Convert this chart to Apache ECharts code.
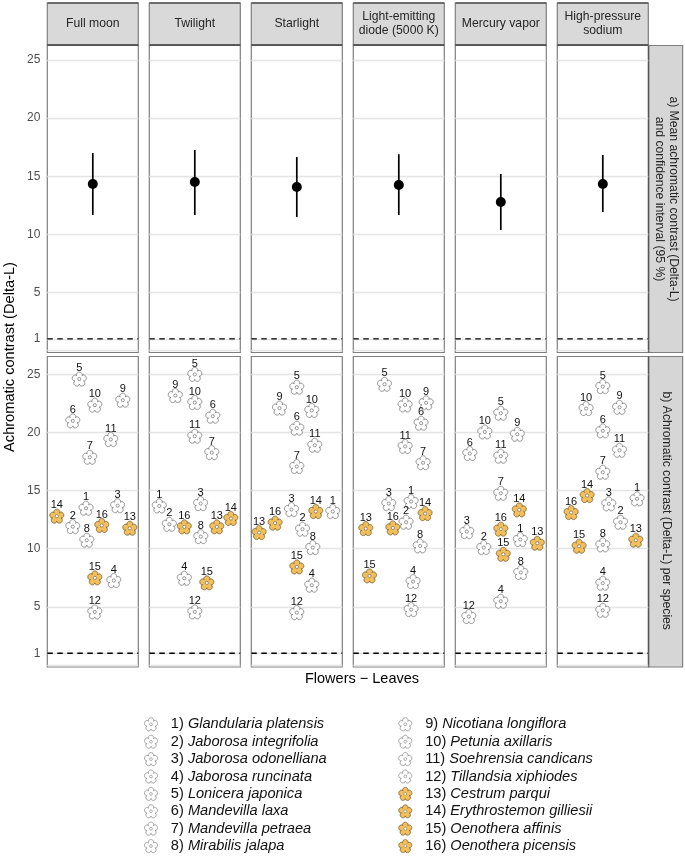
<!DOCTYPE html>
<html><head><meta charset="utf-8">
<style>html,body{margin:0;padding:0;background:#fff}#c{width:685px;height:857px}</style>
<script src="https://cdn.jsdelivr.net/npm/echarts@6/dist/echarts.min.js"></script>
</head><body><div id="c"></div>
<script>
// ---- data ----
const lights = ['Full moon','Twilight','Starlight','Light-emitting\ndiode (5000 K)','Mercury vapor','High-pressure\nsodium'];
const species = ['Glandularia platensis','Jaborosa integrifolia','Jaborosa odonelliana','Jaborosa runcinata','Lonicera japonica','Mandevilla laxa','Mandevilla petraea','Mirabilis jalapa','Nicotiana longiflora','Petunia axillaris','Soehrensia candicans','Tillandsia xiphiodes','Cestrum parqui','Erythrostemon gilliesii','Oenothera affinis','Oenothera picensis'];
const yellowFrom = 13;
const meanValues = [14.33,14.5,14.07,14.24,12.78,14.33];
const ciLow =  [11.66,11.66,11.49,11.66,10.37,11.92];
const ciHigh = [17.0,17.25,16.65,16.9,15.2,16.83];
const yFull  = [13.48,11.9,13.7,7.26,24.6,21.0,17.87,10.73,22.78,22.35,19.4,4.56,11.76,12.8,7.49,12.0];
const xFull  = [-6.8,-20,24.8,21,-13.5,-20,-3,-6,30,2,18,2,37,-36,2,9];
const yTwi   = [13.68,12.1,13.88,7.46,25.0,21.4,18.27,11.04,23.18,22.58,19.68,4.56,11.88,12.6,7.06,11.88];
const xTwi   = [-35.5,-25.5,5.8,-10.5,0,18,17,6,-19.5,0,0,0,22,36,12,-10.5];
const yStar  = [13.2,11.68,13.37,6.86,23.9,20.37,17.07,10.1,22.1,21.9,18.9,4.5,11.39,13.2,8.43,12.2];
const xStar  = [36,5.7,-5.3,15,0,0,0,16,-17.3,15,18,0,-37.7,19,0,-21.7];
const yLed   = [14.06,12.28,13.88,7.17,24.15,20.8,17.4,10.24,22.55,22.37,18.8,4.76,11.73,13.02,7.66,11.79];
const xLed   = [12.3,7.3,-10,14.3,-14.3,22.3,24.3,21.3,27.3,6.3,6.3,12.3,-33,26.3,-29.3,-6];
const yMerc  = [10.79,10.1,11.47,5.48,21.66,18.19,14.77,7.95,19.85,20.05,17.96,4.16,10.47,13.34,9.52,11.68];
const xMerc  = [19.5,-17,-34,0,0,-31,0,20,16.5,-16,0,-32,36.5,18.5,2.5,0];
const ySod   = [14.29,12.28,13.86,7.03,23.95,20.14,16.58,10.33,22.17,22.06,18.47,4.7,10.73,14.57,10.21,13.11];
const xSod   = [34.3,17.7,6,0,0,0,0,0,16.7,-16.7,16.7,0,33,-15.7,-23.7,-31.7];
const panelY = [yFull,yTwi,yStar,yLed,yMerc,ySod];
const panelX = [xFull,xTwi,xStar,xLed,xMerc,xSod];
const gridTicks = [0,1,5,10,15,20,25];
const tickLabels = [1,5,10,15,20,25];
const threshold = 1;

// ---- glyph ----
function flowerPath(){
  let d='';const n=160;
  for(let i=0;i<n;i++){
    const t=i/n*2*Math.PI;
    const r=50*(0.62+0.38*Math.pow(Math.abs(Math.cos(2.5*t)),0.55));
    const x=60+r*Math.sin(t), y=60-r*Math.cos(t);
    d+=(i?'L':'M')+x.toFixed(2)+' '+y.toFixed(2);
  }
  return 'path://'+d+'Z';
}
const FLOWER=flowerPath();
const YELLOW='#F3BF5A', STROKE='#5e5e5e', FONT='"Liberation Sans", Arial, sans-serif';

// ---- layout ----
const PL=[47.3,149.3,251.3,353.3,455.3,557.3], PW=91;
const TOP={y:45.5,h:307,min:-0.17,max:26.25}, BOT={y:356.5,h:310.5,min:-0.18,max:26.54};

const grids=[],xAxes=[],yAxes=[],series=[],graphic=[];
function addAxes(i,R){
  const idx=grids.length;
  grids.push({left:PL[i],top:R.y,width:PW,height:R.h,show:true,backgroundColor:'#fff',borderColor:'#7f7f7f',borderWidth:1.2,containLabel:false});
  xAxes.push({gridIndex:idx,type:'value',min:-45.5,max:45.5,show:false});
  yAxes.push({gridIndex:idx,type:'value',min:R.min,max:R.max,
    axisLine:{show:false},
    axisTick:{show:false,customValues:gridTicks},
    axisLabel:{show:i===0,customValues:tickLabels,color:'#4d4d4d',fontSize:12,fontFamily:FONT,margin:7,showMinLabel:true,showMaxLabel:true},
    splitLine:{show:true,lineStyle:{color:'#e4e4e4',width:1.4}}});
  return idx;
}
function dashed(idx){
  series.push({type:'line',xAxisIndex:idx,yAxisIndex:idx,silent:true,symbol:'none',animation:false,z:3,
    data:[[-45.5,threshold],[45.5,threshold]],lineStyle:{color:'#000',width:1.4,type:[5.5,4.5]}});
}
lights.forEach((name,i)=>{
  const a=addAxes(i,TOP);
  dashed(a);
  series.push({type:'line',xAxisIndex:a,yAxisIndex:a,silent:true,symbol:'none',animation:false,z:4,
    data:[[0,ciLow[i]],[0,ciHigh[i]]],lineStyle:{color:'#000',width:1.7}});
  series.push({type:'scatter',xAxisIndex:a,yAxisIndex:a,silent:true,animation:false,z:5,symbol:'circle',symbolSize:10,
    data:[[0,meanValues[i]]],itemStyle:{color:'#000',opacity:1}});
  const b=addAxes(i,BOT);
  dashed(b);
  const pts=species.map((s,k)=>({value:[panelX[i][k],panelY[i][k]],num:k+1,
    itemStyle:{color:k+1>=yellowFrom?YELLOW:'#fff',opacity:1,borderColor:k+1>=yellowFrom?'#5c4a24':STROKE,borderWidth:0.7}}));
  series.push({type:'scatter',xAxisIndex:b,yAxisIndex:b,silent:true,animation:false,z:5,symbol:FLOWER,symbolSize:14,data:pts,
    label:{show:true,position:'top',distance:-2,formatter:p=>String(p.data.num),color:'#111',fontSize:11,fontFamily:FONT}});
  series.push({type:'scatter',xAxisIndex:b,yAxisIndex:b,silent:true,animation:false,z:6,symbol:'circle',symbolSize:3.2,
    data:pts.map(p=>p.value),itemStyle:{color:'#fff',opacity:1,borderColor:'#555',borderWidth:0.6}});

  // facet strip
  const [cx,w]=[PL[i]+PW/2,PW];
  graphic.push({type:'rect',shape:{x:PL[i],y:3,width:w,height:42},style:{fill:'#d9d9d9',stroke:'#7f7f7f',lineWidth:1.2},silent:true});
  graphic.push({type:'line',shape:{x1:PL[i],y1:3,x2:PL[i]+w,y2:3},style:{stroke:'#555',lineWidth:1.3},silent:true});
  graphic.push({type:'line',shape:{x1:PL[i],y1:45,x2:PL[i]+w,y2:45},style:{stroke:'#444',lineWidth:1.6},silent:true});
  graphic.push({type:'text',x:cx,y:23.5,silent:true,style:{text:name,fill:'#262626',font:'12.2px '+FONT,align:'center',verticalAlign:'middle',lineHeight:14.5}});
});

// right strips
const STRIPX=648.6, STRIPW=34;
[[TOP,'a) Mean achromatic contrast (Delta-L)\nand confidence interval (95 %)'],[BOT,'b) Achromatic contrast (Delta-L) per species']].forEach(([R,t])=>{
  graphic.push({type:'rect',shape:{x:STRIPX,y:R.y,width:STRIPW,height:R.h},style:{fill:'#d6d6d6',stroke:'#7f7f7f',lineWidth:1.2},silent:true});
  graphic.push({type:'line',shape:{x1:STRIPX,y1:R.y,x2:STRIPX,y2:R.y+R.h},style:{stroke:'#555',lineWidth:1.3},silent:true});
  graphic.push({type:'text',x:STRIPX+STRIPW/2+1,y:R.y+R.h/2-(R===TOP?0:1),rotation:-Math.PI/2,silent:true,
    style:{text:t,fill:'#262626',font:'12.2px '+FONT,align:'center',verticalAlign:'middle',lineHeight:14.5}});
});
// axis titles
graphic.push({type:'text',x:10,y:357,rotation:Math.PI/2,silent:true,style:{text:'Achromatic contrast (Delta-L)',fill:'#000',font:'14.6px '+FONT,align:'center',verticalAlign:'middle'}});
graphic.push({type:'text',x:362,y:679,silent:true,style:{text:'Flowers \u2212 Leaves',fill:'#000',font:'14.5px '+FONT,align:'center',verticalAlign:'middle'}});

// legend drawn on its own hidden axes
const lg=grids.length;
grids.push({left:151,top:724.3,width:254.3,height:121.8,show:false});
xAxes.push({gridIndex:lg,type:'value',min:0,max:1,show:false});
yAxes.push({gridIndex:lg,type:'value',min:0,max:7,inverse:true,show:false});
const legendPts=species.map((s,k)=>({value:[Math.floor(k/8),k%8],num:k+1,name:s,
  itemStyle:{color:k+1>=yellowFrom?YELLOW:'#fff',opacity:1,borderColor:k+1>=yellowFrom?'#5c4a24':'#777',borderWidth:0.7}}));
series.push({type:'scatter',xAxisIndex:lg,yAxisIndex:lg,silent:true,animation:false,symbol:FLOWER,symbolSize:13,clip:false,data:legendPts,
  label:{show:true,position:'right',distance:13,formatter:p=>'{n|'+p.data.num+') }{s|'+p.data.name+'}',
    rich:{n:{fontSize:14.6,color:'#111',fontFamily:FONT},s:{fontSize:14.6,fontStyle:'italic',color:'#111',fontFamily:FONT}}}});
series.push({type:'scatter',xAxisIndex:lg,yAxisIndex:lg,silent:true,animation:false,symbol:'circle',symbolSize:2.8,clip:false,z:3,
  data:legendPts.map(p=>p.value),itemStyle:{color:'#fff',opacity:1,borderColor:'#666',borderWidth:0.5}});

const chart=echarts.init(document.getElementById('c'),null,{renderer:'canvas'});
chart.setOption({animation:false,backgroundColor:'#fff',textStyle:{fontFamily:FONT},tooltip:{show:false},grid:grids,xAxis:xAxes,yAxis:yAxes,series,graphic});
</script></body></html>
